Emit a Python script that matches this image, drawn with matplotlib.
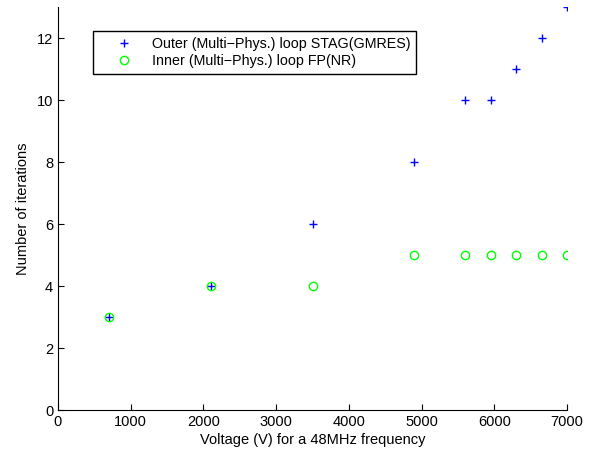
import matplotlib
matplotlib.use("Agg")
import matplotlib.pyplot as plt

voltage = [700, 2100, 3500, 4900, 5600, 5950, 6300, 6650, 7000]
outer_iters = [3, 4, 6, 8, 10, 10, 11, 12, 13]
inner_iters = [3, 4, 4, 5, 5, 5, 5, 5, 5]
x_ticks = [0, 1000, 2000, 3000, 4000, 5000, 6000, 7000]
y_ticks = [0, 2, 4, 6, 8, 10, 12]

plt.rcParams['font.family'] = ['Liberation Sans', 'DejaVu Sans']
plt.rcParams['font.size'] = 10

fig = plt.figure(figsize=(5.99, 4.51), dpi=100)
ax = fig.add_axes([58/599, 1 - 410/451, 509/599, 403/451])

ax.plot(voltage, outer_iters, linestyle='none', marker='+', color='#0000ff',
        markersize=6, markeredgewidth=1.0, label='Outer (Multi\u2212Phys.) loop STAG(GMRES)')
ax.plot(voltage, inner_iters, linestyle='none', marker='o', markerfacecolor='none',
        markeredgecolor='#00ff00', markersize=6, markeredgewidth=1.0,
        label='Inner (Multi\u2212Phys.) loop FP(NR)')

ax.set_xlim(0, 7000)
ax.set_ylim(0, 13)
ax.set_xticks(x_ticks)
ax.set_yticks(y_ticks)
ax.spines['top'].set_visible(False)
ax.spines['right'].set_visible(False)
ax.tick_params(direction='in', length=4, width=0.8, labelsize=10.5)
ax.set_xlabel('Voltage (V) for a 48MHz frequency', fontsize=10.5, labelpad=3)
ax.set_ylabel('Number of iterations', fontsize=10.5, labelpad=5)

leg = ax.legend(loc='upper left', bbox_to_anchor=(35/509, 379/403), borderaxespad=0,
                fancybox=False, edgecolor='black', framealpha=1, fontsize=10.3,
                handlelength=3.6, handletextpad=0.1, borderpad=0.4, labelspacing=0.25)
leg.get_frame().set_linewidth(1.0)

fig.savefig('out.png', dpi=100)
